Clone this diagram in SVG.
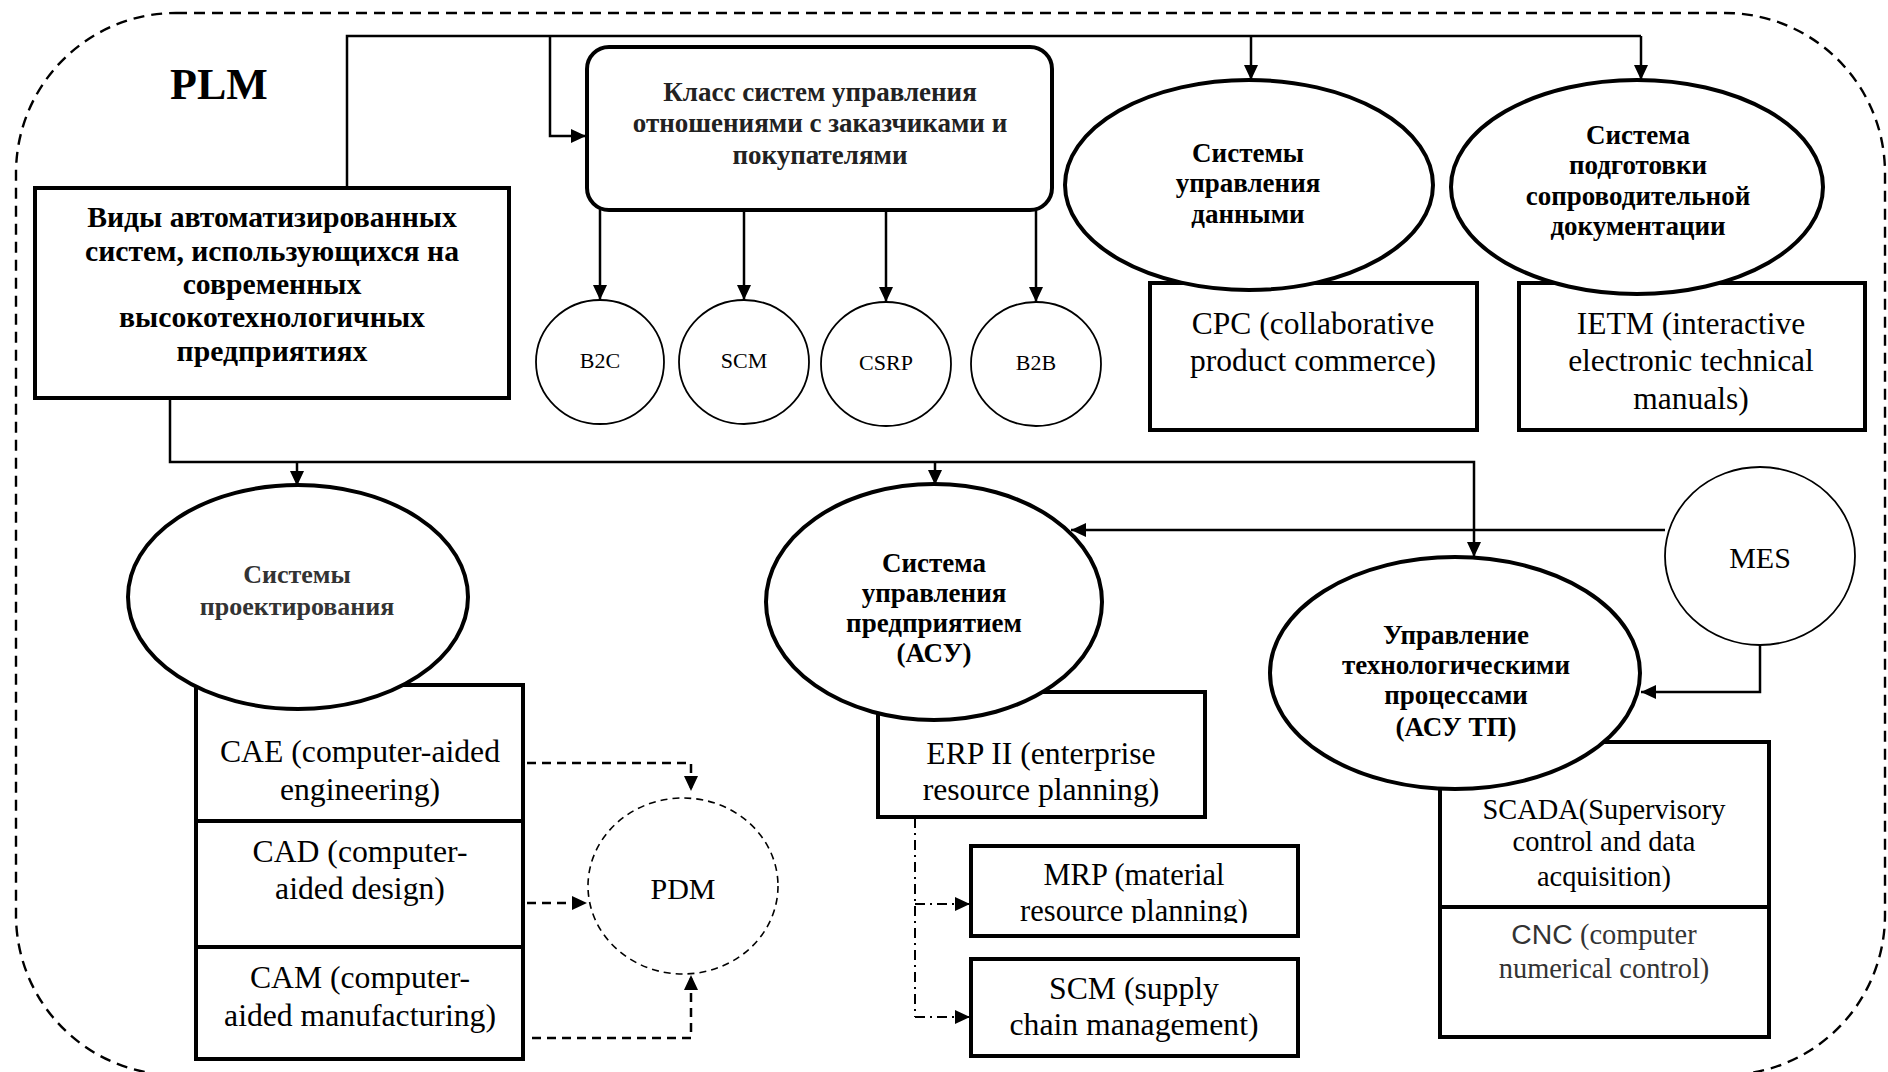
<svg xmlns="http://www.w3.org/2000/svg" width="1888" height="1072" viewBox="0 0 1888 1072">
<defs>
<style>
.frame{fill:none;stroke:#000;stroke-width:2.4;stroke-dasharray:11 7}
.box{fill:#fff;stroke:#000;stroke-width:4}
.ell{fill:#fff;stroke:#000;stroke-width:4}
.thin{fill:#fff;stroke:#000;stroke-width:1.8}
.dcirc{fill:none;stroke:#000;stroke-width:1.6;stroke-dasharray:7 5}
.ln{fill:none;stroke:#000;stroke-width:2.5}
.dash{fill:none;stroke:#000;stroke-width:2.5;stroke-dasharray:9 6}
.dd{fill:none;stroke:#000;stroke-width:2;stroke-dasharray:10 5 2 5}
.b{font-family:"Liberation Serif","Times New Roman",serif;font-weight:bold;text-anchor:middle;fill:#000}
.r{font-family:"Liberation Serif","Times New Roman",serif;text-anchor:middle;fill:#000}
</style>
<marker id="ah" markerUnits="userSpaceOnUse" markerWidth="16" markerHeight="14" refX="15" refY="7" orient="auto">
<path d="M0,0 L15,7 L0,14 Z" fill="#000"/>
</marker>
<clipPath id="mrpclip"><rect x="971" y="846" width="327" height="77"/></clipPath>
</defs>
<rect class="frame" x="16" y="13" width="1869" height="1062" rx="160" ry="160"/>
<text class="b" x="219" y="99" font-size="44">PLM</text>

<g id="connectors">
<path class="ln" d="M347,188 V36 H1641"/>
<path class="ln" d="M550,36 V136 H586" marker-end="url(#ah)"/>
<path class="ln" d="M1251,36 V80" marker-end="url(#ah)"/>
<path class="ln" d="M1641,36 V80" marker-end="url(#ah)"/>
<path class="ln" d="M600,210 V300" marker-end="url(#ah)"/>
<path class="ln" d="M744,210 V300" marker-end="url(#ah)"/>
<path class="ln" d="M886,210 V302" marker-end="url(#ah)"/>
<path class="ln" d="M1036,210 V302" marker-end="url(#ah)"/>
<path class="ln" d="M170,398 V462 H1474 V557" marker-end="url(#ah)"/>
<path class="ln" d="M297,462 V486" marker-end="url(#ah)"/>
<path class="ln" d="M935,462 V485" marker-end="url(#ah)"/>
<path class="ln" d="M1665,530 H1071" marker-end="url(#ah)"/>
<path class="ln" d="M1760,645 V692 H1641" marker-end="url(#ah)"/>
<path class="dash" d="M527,763 H691 V791" marker-end="url(#ah)"/>
<path class="dash" d="M527,903 H587" marker-end="url(#ah)"/>
<path class="dash" d="M532,1038 H691 V975" marker-end="url(#ah)"/>
<path class="dd" d="M915,818 V1017"/>
<path class="dd" d="M915,904 H970" marker-end="url(#ah)"/>
<path class="dd" d="M915,1017 H970" marker-end="url(#ah)"/>
</g>

<g id="n-types">
<rect class="box" x="35" y="188" width="474" height="210"/>
<text class="b" font-size="29.7"><tspan x="272" y="227">Виды автоматизированных</tspan><tspan x="272" y="261">систем, использующихся на</tspan><tspan x="272" y="294">современных</tspan><tspan x="272" y="327">высокотехнологичных</tspan><tspan x="272" y="361">предприятиях</tspan></text>
</g>

<g id="n-crm">
<rect class="box" x="587" y="47" width="465" height="163" rx="22" ry="22"/>
<text class="b" font-size="27" style="fill:#222"><tspan x="820" y="101">Класс систем управления</tspan><tspan x="820" y="132">отношениями с заказчиками и</tspan><tspan x="820" y="164">покупателями</tspan></text>
</g>

<g id="n-b2c"><ellipse class="thin" cx="600" cy="362" rx="64" ry="62"/><text class="r" font-size="22" x="600" y="368">B2C</text></g>
<g id="n-scm1"><ellipse class="thin" cx="744" cy="362" rx="65" ry="62"/><text class="r" font-size="22" x="744" y="368">SCM</text></g>
<g id="n-csrp"><ellipse class="thin" cx="886" cy="364" rx="65" ry="62"/><text class="r" font-size="22" x="886" y="370">CSRP</text></g>
<g id="n-b2b"><ellipse class="thin" cx="1036" cy="364" rx="65" ry="62"/><text class="r" font-size="22" x="1036" y="370">B2B</text></g>

<g id="n-cpc">
<rect class="box" x="1150" y="283" width="327" height="147"/>
<text class="r" font-size="31.5"><tspan x="1313" y="334">CPC (collaborative</tspan><tspan x="1313" y="371">product commerce)</tspan></text>
</g>
<g id="n-data">
<ellipse class="ell" cx="1249" cy="185" rx="184" ry="105"/>
<text class="b" font-size="27"><tspan x="1248" y="162">Системы</tspan><tspan x="1248" y="192">управления</tspan><tspan x="1248" y="223">данными</tspan></text>
</g>

<g id="n-ietm">
<rect class="box" x="1519" y="283" width="346" height="147"/>
<text class="r" font-size="31.5"><tspan x="1691" y="334">IETM (interactive</tspan><tspan x="1691" y="371">electronic technical</tspan><tspan x="1691" y="409">manuals)</tspan></text>
</g>
<g id="n-doc">
<ellipse class="ell" cx="1637" cy="187" rx="186" ry="107"/>
<text class="b" font-size="27"><tspan x="1638" y="144">Система</tspan><tspan x="1638" y="174">подготовки</tspan><tspan x="1638" y="205">сопроводительной</tspan><tspan x="1638" y="235">документации</tspan></text>
</g>

<g id="n-cax">
<rect class="box" x="196" y="685" width="327" height="374"/>
<line x1="196" y1="821" x2="523" y2="821" stroke="#000" stroke-width="4"/>
<line x1="196" y1="947" x2="523" y2="947" stroke="#000" stroke-width="4"/>
<text class="r" font-size="31.7"><tspan x="360" y="762">CAE (computer-aided</tspan><tspan x="360" y="800">engineering)</tspan><tspan x="360" y="862">CAD (computer-</tspan><tspan x="360" y="899">aided design)</tspan><tspan x="360" y="988">CAM (computer-</tspan><tspan x="360" y="1026">aided manufacturing)</tspan></text>
</g>
<g id="n-design">
<ellipse class="ell" cx="298" cy="597" rx="170" ry="112"/>
<text class="b" font-size="26" style="fill:#333"><tspan x="297" y="583">Системы</tspan><tspan x="297" y="615">проектирования</tspan></text>
</g>

<g id="n-pdm">
<ellipse class="dcirc" cx="683" cy="886" rx="95" ry="88"/>
<text class="r" font-size="30" x="683" y="899">PDM</text>
</g>

<g id="n-erp">
<rect class="box" x="878" y="692" width="327" height="125"/>
<text class="r" font-size="31.7"><tspan x="1041" y="764">ERP II (enterprise</tspan><tspan x="1041" y="800">resource planning)</tspan></text>
</g>
<g id="n-asu">
<ellipse class="ell" cx="934" cy="602" rx="168" ry="118"/>
<text class="b" font-size="27"><tspan x="934" y="572">Система</tspan><tspan x="934" y="602">управления</tspan><tspan x="934" y="632">предприятием</tspan><tspan x="934" y="662">(АСУ)</tspan></text>
</g>

<g id="n-mrp">
<rect class="box" x="971" y="846" width="327" height="90"/>
<text class="r" font-size="30.5" clip-path="url(#mrpclip)"><tspan x="1134" y="885">MRP (material</tspan><tspan x="1134" y="921">resource planning)</tspan></text>
</g>
<g id="n-scm2">
<rect class="box" x="971" y="959" width="327" height="97"/>
<text class="r" font-size="31.7"><tspan x="1134" y="999">SCM (supply</tspan><tspan x="1134" y="1035">chain management)</tspan></text>
</g>

<g id="n-mes">
<ellipse class="thin" cx="1760" cy="556" rx="95" ry="89"/>
<text class="r" font-size="30" x="1760" y="568">MES</text>
</g>

<g id="n-scada">
<rect class="box" x="1440" y="742" width="329" height="295"/>
<line x1="1440" y1="907" x2="1769" y2="907" stroke="#000" stroke-width="4"/>
<text class="r" font-size="28.4"><tspan x="1604" y="819">SCADA(Supervisory</tspan><tspan x="1604" y="851">control and data</tspan><tspan x="1604" y="886">acquisition)</tspan></text>
<text class="r" font-size="28.4" style="fill:#333"><tspan x="1604" y="944"><tspan font-family="Liberation Sans, Arial, sans-serif">CNC</tspan> (computer</tspan><tspan x="1604" y="978">numerical control)</tspan></text>
</g>
<g id="n-asutp">
<ellipse class="ell" cx="1455" cy="673" rx="185" ry="116"/>
<text class="b" font-size="27"><tspan x="1456" y="644">Управление</tspan><tspan x="1456" y="674">технологическими</tspan><tspan x="1456" y="704">процессами</tspan><tspan x="1456" y="736">(АСУ ТП)</tspan></text>
</g>
</svg>
